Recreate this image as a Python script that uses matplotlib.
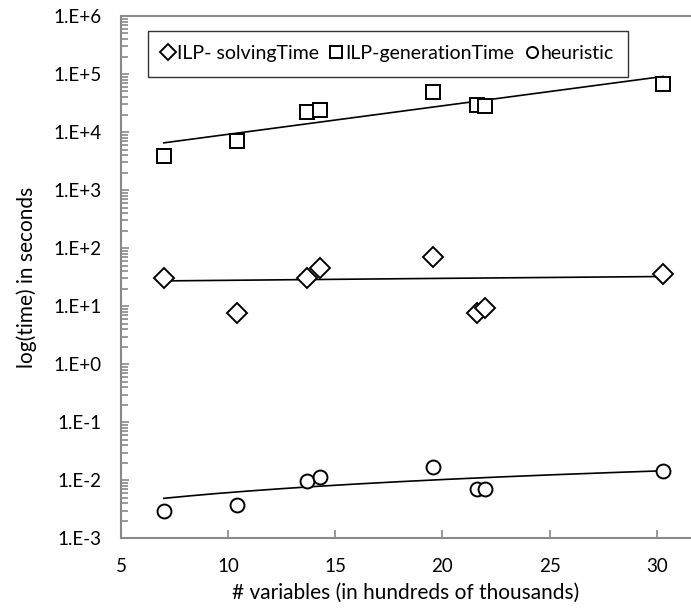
import numpy as np
import matplotlib.pyplot as plt
from matplotlib.ticker import LogLocator, NullFormatter

plt.rcParams['font.family'] = ['Lato', 'DejaVu Sans']

# x: number of variables (hundreds of thousands)
n_vars = [7.0, 10.4, 13.7, 14.3, 19.55, 21.6, 22.0, 30.3]
solving_time = [30, 7.5, 30, 45, 71, 7.7, 9.2, 36]
generation_time = [3.9e3, 7.0e3, 2.2e4, 2.37e4, 4.9e4, 2.9e4, 2.8e4, 6.7e4]
heuristic_time = [2.95e-3, 3.7e-3, 9.8e-3, 1.12e-2, 1.71e-2, 7.2e-3, 7.1e-3, 1.45e-2]

# label, values, marker, marker size, trendline type
series = [
    ("ILP- solvingTime", solving_time, "D", 10, "linear"),
    ("ILP-generationTime", generation_time, "s", 9.5, "exp"),
    ("heuristic", heuristic_time, "o", 10, "linear"),
]

grey = "#898989"

fig = plt.figure(figsize=(6.91, 6.12), dpi=100)
ax = fig.add_axes([0.1751, 0.1204, 0.8249, 0.8535])

x = np.array(n_vars)
xs = np.linspace(x.min(), x.max(), 200)
for label, vals, marker, ms, trend in series:
    y = np.array(vals)
    if trend == "exp":
        # exponential trendline: ln y = a + b x
        b, a = np.polyfit(x, np.log(y), 1)
        ys = np.exp(a + b * xs)
    else:
        b, a = np.polyfit(x, y, 1)
        ys = a + b * xs
    ax.plot(xs, ys, color="black", lw=1.2, zorder=2)
    ax.plot(x, y, linestyle="none", marker=marker, ms=ms, mfc="white",
            mec="black", mew=1.4, label=label, zorder=3)

ax.set_yscale("log")
ax.set_ylim(1e-3, 1e6)
ax.set_xlim(5, 31.6)
ax.set_xticks([5, 10, 15, 20, 25, 30])
ax.set_yticks([10.0 ** k for k in range(-3, 7)])
ax.set_yticklabels(["1.E-3", "1.E-2", "1.E-1", "1.E+0", "1.E+1", "1.E+2",
                    "1.E+3", "1.E+4", "1.E+5", "1.E+6"])
ax.yaxis.set_minor_locator(LogLocator(base=10, subs=np.arange(2, 10), numticks=20))
ax.yaxis.set_minor_formatter(NullFormatter())

ax.tick_params(axis="both", which="both", direction="in", color=grey,
               labelsize=13.5, width=1.2)
ax.tick_params(axis="y", which="major", length=6, pad=14)
ax.tick_params(axis="y", which="minor", length=5)
ax.tick_params(axis="x", which="major", length=6, pad=14)

for side in ["left", "bottom", "top"]:
    ax.spines[side].set_color(grey)
    ax.spines[side].set_linewidth(1.5)
ax.spines["right"].set_visible(False)

ax.set_xlabel("# variables (in hundreds of thousands)", fontsize=15, labelpad=6)
ax.set_ylabel("log(time) in seconds", fontsize=15, labelpad=12)

leg = ax.legend(loc="upper left", bbox_to_anchor=(0.047, 0.972), ncol=3,
                fontsize=14, frameon=True, fancybox=False, handlelength=0.6,
                handletextpad=0.15, columnspacing=0.6, borderpad=0.75,
                borderaxespad=0)
leg.get_frame().set_edgecolor("black")
leg.get_frame().set_linewidth(1.0)
for h in leg.legend_handles:
    h.set_markersize(8)

fig.savefig("out.png", dpi=100)
